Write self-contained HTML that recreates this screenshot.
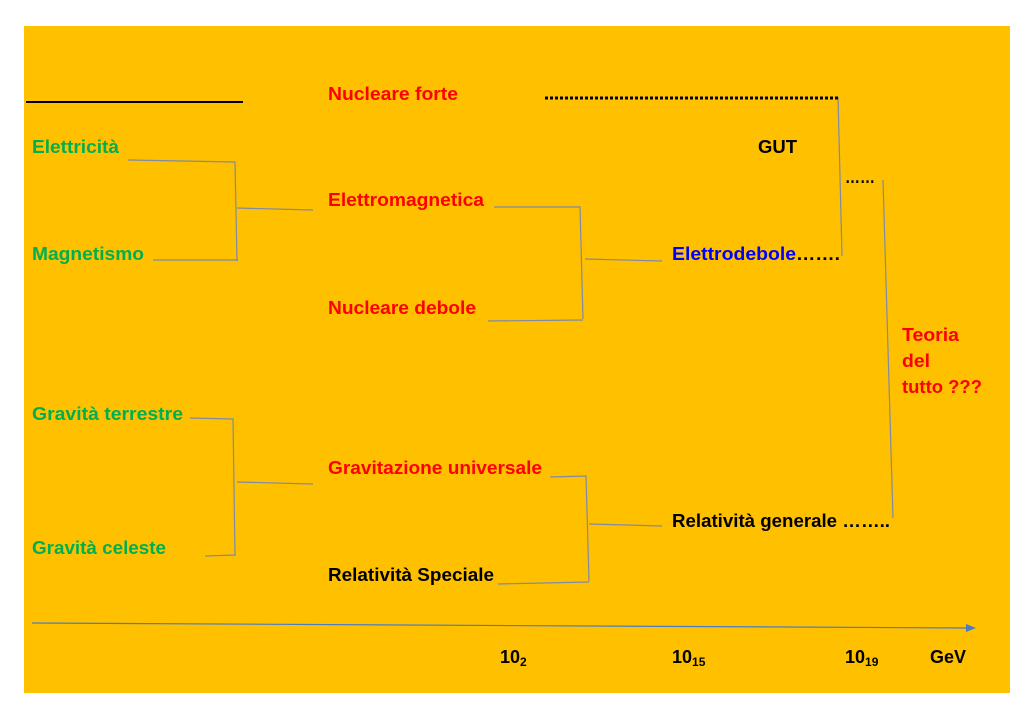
<!DOCTYPE html>
<html><head><meta charset="utf-8"><style>
html,body{margin:0;padding:0;background:#fff;width:1024px;height:724px;overflow:hidden}
svg{display:block}
text{font-family:"Liberation Sans",sans-serif;font-weight:bold;font-size:18px}
.g{fill:#00b050}.r{fill:#ff0000}.k{fill:#000}.b{fill:#0000ff}
</style></head><body>
<svg width="1024" height="724" viewBox="0 0 1024 724" xmlns="http://www.w3.org/2000/svg">
<rect x="24" y="26" width="986" height="667" fill="#ffc000"/>
<line x1="26" y1="102" x2="243" y2="102" stroke="#000" stroke-width="2"/>
<g stroke="#7f8aa6" stroke-width="1.2" fill="none">
<polyline points="128,160 235,162 237,261"/><line x1="153" y1="260" x2="238" y2="260"/><line x1="237" y1="208" x2="313" y2="210"/>
<polyline points="190,418 233,419 235,556"/><line x1="205" y1="556" x2="235" y2="555"/><line x1="237" y1="482" x2="313" y2="484"/>
<polyline points="494,207 580,207 583,319"/><line x1="488" y1="321" x2="583" y2="320"/><line x1="585" y1="259" x2="662" y2="261"/>
<polyline points="550,477 586,476 589,581"/><line x1="498" y1="584" x2="589" y2="582"/><line x1="589" y1="524" x2="662" y2="526"/>
<line x1="838" y1="97" x2="842" y2="256"/>
<line x1="883" y1="180" x2="893" y2="518"/>
</g>
<line x1="32" y1="623" x2="968" y2="628" stroke="#4a7cc4" stroke-width="1.2"/>
<polygon points="976,628 966,624 966,632" fill="#4a7cc4"/>
<line x1="545" y1="98" x2="838" y2="98" stroke="#000" stroke-width="3" stroke-dasharray="3 2"/>
<text class="g" x="32" y="153" textLength="87" lengthAdjust="spacingAndGlyphs">Elettricità</text>
<text class="g" x="32" y="260" textLength="112" lengthAdjust="spacingAndGlyphs">Magnetismo</text>
<text class="g" x="32" y="420" textLength="151" lengthAdjust="spacingAndGlyphs">Gravità terrestre</text>
<text class="g" x="32" y="554" textLength="134" lengthAdjust="spacingAndGlyphs">Gravità celeste</text>
<text class="r" x="328" y="100" textLength="130" lengthAdjust="spacingAndGlyphs">Nucleare forte</text>
<text class="r" x="328" y="206" textLength="156" lengthAdjust="spacingAndGlyphs">Elettromagnetica</text>
<text class="r" x="328" y="314" textLength="148" lengthAdjust="spacingAndGlyphs">Nucleare debole</text>
<text class="r" x="328" y="474" textLength="214" lengthAdjust="spacingAndGlyphs">Gravitazione universale</text>
<text class="k" x="328" y="581" textLength="166" lengthAdjust="spacingAndGlyphs">Relatività Speciale</text>
<text class="k" x="758" y="153" textLength="39" lengthAdjust="spacingAndGlyphs">GUT</text>
<text class="k" x="845" y="183" textLength="30" lengthAdjust="spacingAndGlyphs">……</text>
<text class="b" x="672" y="260" textLength="124" lengthAdjust="spacingAndGlyphs">Elettrodebole</text>
<text class="k" x="796" y="260" textLength="44" lengthAdjust="spacingAndGlyphs">…….</text>
<text class="k" x="672" y="527" textLength="218" lengthAdjust="spacingAndGlyphs">Relatività generale ……..</text>
<text class="r" x="902" y="341" textLength="57" lengthAdjust="spacingAndGlyphs">Teoria</text>
<text class="r" x="902" y="367" textLength="28" lengthAdjust="spacingAndGlyphs">del</text>
<text class="r" x="902" y="393" textLength="80" lengthAdjust="spacingAndGlyphs">tutto ???</text>
<text class="k" x="500" y="663">10<tspan font-size="12" dy="3">2</tspan></text>
<text class="k" x="672" y="663">10<tspan font-size="12" dy="3">15</tspan></text>
<text class="k" x="845" y="663">10<tspan font-size="12" dy="3">19</tspan></text>
<text class="k" x="930" y="663" textLength="36" lengthAdjust="spacingAndGlyphs">GeV</text>
</svg>
</body></html>
